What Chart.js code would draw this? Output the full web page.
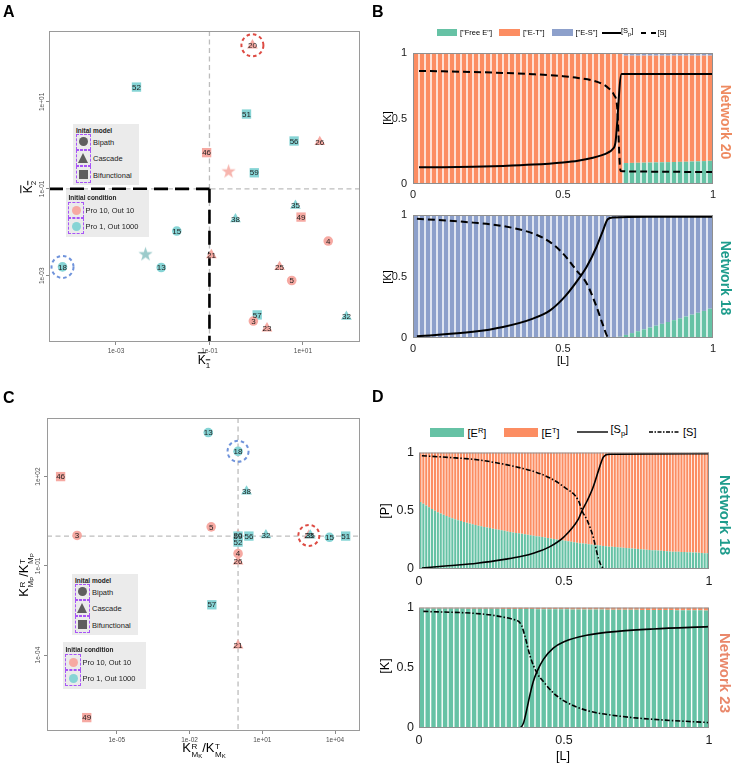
<!DOCTYPE html>
<html>
<head>
<meta charset="utf-8">
<script src="https://cdn.jsdelivr.net/npm/chart.js@4.4.1/dist/chart.umd.min.js"></script>
<style>
  body { margin: 0; background: #fff; }
  #fig { position: relative; width: 733px; height: 765px; overflow: hidden; font-family: "Liberation Sans", Arial, sans-serif; color: #000; }
  .t { position: absolute; white-space: nowrap; line-height: 1; }
  .letter { font-weight: bold; font-size: 16px; }
  .net { font-weight: bold; transform: translate(-50%, -50%) rotate(90deg); }
  .rotl { transform: translate(-50%, -50%) rotate(-90deg); }
  .mid { transform: translate(-50%, -50%); }
  .vmid { transform: translateY(-50%); }
  .key { position: absolute; background: #ebebeb; }
  .key .ttl { position: absolute; font-weight: bold; font-size: 6.5px; color: #222; white-space: nowrap; }
  .key .dbox { position: absolute; border: 1.2px dashed #a855f7; box-sizing: border-box; }
  .key .lab { position: absolute; font-size: 7.5px; color: #222; transform: translateY(-50%); white-space: nowrap; }
  .ss { display: inline-flex; flex-direction: column; font-size: 0.62em; line-height: 1.05; vertical-align: 0.42em; margin-left: 0.5px; }
  .ss sub { font-size: 0.75em; vertical-align: -0.2em; line-height: 0; }
</style>
</head>
<body>
<div id="fig"></div>
<script>
// ---- panel A : K1 / K2 scatter ----
const aNet = [20, 52, 51, 56, 26, 46, 59, 35, 49, 38, 15, 4, 21, 18, 13, 25, 5, 57, 3, 23, 32];
const aK1 = [0.83, 2.75e-3, 0.62, 6.46, 22.9, 0.087, 0.91, 6.9, 9.1, 0.36, 0.020, 34.7, 0.11, 7.2e-5, 9.3e-3, 3.16, 5.75, 1.05, 0.87, 1.70, 85];
const aK2 = [200, 21.9, 5.25, 1.26, 1.20, 0.68, 0.234, 0.041, 0.0224, 0.020, 0.0107, 6.3e-3, 3.0e-3, 1.6e-3, 1.55e-3, 1.6e-3, 7.8e-4, 1.26e-4, 9.1e-5, 6.2e-5, 1.15e-4];
const aModel = ['cas', 'bif', 'bif', 'bif', 'cas', 'bif', 'bif', 'cas', 'bif', 'cas', 'bip', 'bip', 'cas', 'bip', 'bip', 'cas', 'bip', 'bif', 'bip', 'cas', 'cas'];
const aCond = ['p10', 'p1', 'p1', 'p1', 'p10', 'p10', 'p1', 'p1', 'p10', 'p1', 'p1', 'p10', 'p10', 'p1', 'p1', 'p10', 'p10', 'p1', 'p10', 'p10', 'p1'];
const aStarK1 = [0.257, 4.3e-3];
const aStarK2 = [0.257, 3.2e-3];
const aXTicks = [1e-3, 1e-1, 1e1];
const aYTicks = [1e-3, 1e-1, 1e1];

// ---- panel C : KM ratios scatter ----
const cNet = [13, 18, 46, 38, 5, 3, 20, 59, 56, 32, 23, 35, 15, 51, 52, 4, 26, 57, 21, 49];
const cKMK = [0.059, 1.0, 4.8e-8, 2.24, 0.078, 2.3e-7, 1.0, 1.0, 2.8, 14.1, 832, 955, 5890, 27500, 1.0, 1.0, 1.0, 0.083, 1.0, 5.75e-7];
const cKMP = [3020, 708, 100, 31.6, 2.04, 1.05, 1.07, 1.0, 1.0, 1.07, 1.05, 1.05, 0.91, 1.0, 0.63, 0.257, 0.141, 4.9e-3, 2.1e-4, 7.9e-7];
const cModel = ['bip', 'bip', 'bif', 'cas', 'bip', 'bip', 'cas', 'bif', 'bif', 'cas', 'cas', 'cas', 'bip', 'bif', 'bif', 'bip', 'cas', 'bif', 'cas', 'bif'];
const cCond = ['p1', 'p1', 'p10', 'p1', 'p10', 'p10', 'p10', 'p1', 'p1', 'p1', 'p10', 'p1', 'p1', 'p1', 'p1', 'p10', 'p10', 'p1', 'p10', 'p10'];
const cXTicks = [1e-5, 1e-2, 1e1, 1e4];
const cYTicks = [1e-4, 1e-1, 1e2];

// ---- panel B / D bar positions ([L]) ----
const L50 = [0.01, 0.03, 0.05, 0.07, 0.09, 0.11, 0.13, 0.15, 0.17, 0.19,
  0.21, 0.23, 0.25, 0.27, 0.29, 0.31, 0.33, 0.35, 0.37, 0.39,
  0.41, 0.43, 0.45, 0.47, 0.49, 0.51, 0.53, 0.55, 0.57, 0.59,
  0.61, 0.63, 0.65, 0.67, 0.69, 0.71, 0.73, 0.75, 0.77, 0.79,
  0.81, 0.83, 0.85, 0.87, 0.89, 0.91, 0.93, 0.95, 0.97, 0.99];
const L100 = [0.005, 0.015, 0.025, 0.035, 0.045, 0.055, 0.065, 0.075, 0.085, 0.095,
  0.105, 0.115, 0.125, 0.135, 0.145, 0.155, 0.165, 0.175, 0.185, 0.195,
  0.205, 0.215, 0.225, 0.235, 0.245, 0.255, 0.265, 0.275, 0.285, 0.295,
  0.305, 0.315, 0.325, 0.335, 0.345, 0.355, 0.365, 0.375, 0.385, 0.395,
  0.405, 0.415, 0.425, 0.435, 0.445, 0.455, 0.465, 0.475, 0.485, 0.495,
  0.505, 0.515, 0.525, 0.535, 0.545, 0.555, 0.565, 0.575, 0.585, 0.595,
  0.605, 0.615, 0.625, 0.635, 0.645, 0.655, 0.665, 0.675, 0.685, 0.695,
  0.705, 0.715, 0.725, 0.735, 0.745, 0.755, 0.765, 0.775, 0.785, 0.795,
  0.805, 0.815, 0.825, 0.835, 0.845, 0.855, 0.865, 0.875, 0.885, 0.895,
  0.905, 0.915, 0.925, 0.935, 0.945, 0.955, 0.965, 0.975, 0.985, 0.995];
const LTicks = [0, 0.5, 1];

// B top, network 20
const n20FreeE = [0, 0, 0, 0, 0, 0, 0, 0, 0, 0, 0, 0, 0, 0, 0, 0, 0, 0, 0, 0,
  0, 0, 0, 0, 0, 0, 0, 0, 0, 0, 0, 0, 0, 0, 0,
  0.16, 0.161, 0.162, 0.163, 0.164, 0.165, 0.166, 0.167, 0.168, 0.169, 0.17, 0.172, 0.173, 0.175, 0.177];
const n20ES = [0, 0, 0, 0, 0, 0, 0, 0, 0, 0, 0, 0, 0, 0, 0, 0, 0, 0, 0, 0,
  0, 0, 0, 0, 0, 0, 0, 0, 0, 0, 0, 0, 0, 0, 0,
  0.02, 0.02, 0.02, 0.02, 0.02, 0.02, 0.02, 0.02, 0.02, 0.02, 0.02, 0.02, 0.02, 0.02, 0.02];
const n20SpL = [0.02, 0.1, 0.2, 0.3, 0.4, 0.5, 0.55, 0.6, 0.63, 0.65, 0.665, 0.675, 0.695, 0.75, 0.85, 1.0];
const n20Sp = [0.127, 0.128, 0.132, 0.138, 0.148, 0.165, 0.178, 0.2, 0.22, 0.24, 0.265, 0.32, 0.84, 0.84, 0.84, 0.84];
const n20SL = [0.02, 0.1, 0.2, 0.3, 0.4, 0.5, 0.55, 0.6, 0.63, 0.65, 0.67, 0.68, 0.692, 0.75, 0.85, 1.0];
const n20S = [0.863, 0.86, 0.855, 0.848, 0.838, 0.823, 0.81, 0.79, 0.765, 0.735, 0.68, 0.6, 0.1, 0.095, 0.093, 0.092];

// B bottom, network 18
const n18bFreeE = [0, 0, 0, 0, 0, 0, 0, 0, 0, 0, 0, 0, 0, 0, 0, 0, 0, 0, 0, 0,
  0, 0, 0, 0, 0, 0, 0, 0, 0, 0, 0, 0, 0, 0,
  0.01, 0.025, 0.04, 0.055, 0.07, 0.085, 0.1, 0.115, 0.13, 0.145, 0.16, 0.175, 0.19, 0.205, 0.22, 0.238];
const n18bSpL = [0.013, 0.2, 0.3, 0.4, 0.457, 0.5, 0.545, 0.579, 0.612, 0.634, 0.649, 0.667, 0.8, 1.0];
const n18bSp = [0.014, 0.05, 0.09, 0.158, 0.225, 0.32, 0.457, 0.58, 0.742, 0.878, 0.965, 0.98, 0.985, 0.986];
const n18bSL = [0.013, 0.2, 0.3, 0.4, 0.457, 0.5, 0.545, 0.579, 0.612, 0.634, 0.65, 0.667, 0.8, 1.0];
const n18bS = [0.97, 0.938, 0.91, 0.85, 0.78, 0.687, 0.55, 0.443, 0.253, 0.1, 0.008, 0, 0, 0];

// D top, network 18
const n18dER = [0.575, 0.56, 0.545, 0.53, 0.515, 0.5, 0.488, 0.476, 0.465, 0.455,
  0.445, 0.436, 0.427, 0.419, 0.411, 0.404, 0.397, 0.39, 0.384, 0.378,
  0.372, 0.366, 0.361, 0.356, 0.351, 0.346, 0.341, 0.336, 0.332, 0.328,
  0.322, 0.318, 0.314, 0.31, 0.306, 0.302, 0.298, 0.294, 0.29, 0.286,
  0.282, 0.278, 0.274, 0.27, 0.266, 0.262, 0.258, 0.254, 0.25, 0.246,
  0.242, 0.238, 0.234, 0.23, 0.226, 0.222, 0.219, 0.216, 0.213, 0.21,
  0.207, 0.204, 0.201, 0.198, 0.195, 0.192, 0.19, 0.188, 0.186, 0.184,
  0.182, 0.18, 0.178, 0.176, 0.174, 0.172, 0.17, 0.168, 0.166, 0.164,
  0.162, 0.16, 0.158, 0.156, 0.154, 0.152, 0.15, 0.149, 0.148, 0.147,
  0.146, 0.145, 0.144, 0.143, 0.142, 0.141, 0.14, 0.138, 0.136, 0.135];
const n18dSpL = [0.01, 0.1, 0.2, 0.3, 0.35, 0.4, 0.45, 0.5, 0.55, 0.562, 0.58, 0.6, 0.62, 0.635, 0.645, 0.66, 0.8, 1.0];
const n18dSp = [0.008, 0.028, 0.05, 0.085, 0.107, 0.14, 0.19, 0.276, 0.43, 0.5, 0.586, 0.7, 0.853, 0.958, 0.98, 0.986, 0.988, 0.99];
const n18dSL = [0.01, 0.1, 0.2, 0.3, 0.35, 0.4, 0.45, 0.5, 0.55, 0.562, 0.58, 0.6, 0.62, 0.635, 0.65, 0.8, 1.0];
const n18dS = [0.972, 0.958, 0.938, 0.896, 0.868, 0.834, 0.783, 0.704, 0.586, 0.5, 0.417, 0.28, 0.08, 0.008, 0, 0, 0];

// D bottom, network 23
const n23ER = [0.993, 0.993, 0.992, 0.992, 0.992, 0.991, 0.991, 0.991, 0.99, 0.99,
  0.99, 0.989, 0.989, 0.989, 0.988, 0.988, 0.988, 0.987, 0.987, 0.987,
  0.986, 0.986, 0.986, 0.985, 0.985, 0.985, 0.984, 0.984, 0.984, 0.983,
  0.983, 0.983, 0.982, 0.982, 0.982, 0.981, 0.981, 0.981, 0.98, 0.98,
  0.98, 0.979, 0.979, 0.979, 0.978, 0.978, 0.978, 0.977, 0.977, 0.976];
const n23SpL = [0.02, 0.345, 0.36, 0.371, 0.383, 0.394, 0.406, 0.429, 0.463, 0.5, 0.578, 0.693, 0.808, 1.0];
const n23Sp = [0, 0, 0.04, 0.146, 0.28, 0.385, 0.464, 0.57, 0.663, 0.716, 0.77, 0.804, 0.822, 0.841];
const n23SL = [0.015, 0.337, 0.354, 0.366, 0.383, 0.406, 0.429, 0.463, 0.5, 0.578, 0.693, 0.808, 1.0];
const n23S = [0.968, 0.894, 0.849, 0.756, 0.597, 0.459, 0.385, 0.292, 0.225, 0.146, 0.098, 0.072, 0.045];

const GREEN = '#66C2A5', ORANGE = '#FC8D62', BLUE = '#8DA0CB';
const PINK = '#F6A9A2', TEAL = '#86D4D5';

Chart.defaults.font.family = '"Liberation Sans", Arial, sans-serif';

const fig = document.getElementById('fig');
function put(html) { fig.insertAdjacentHTML('beforeend', html); }

function mkCanvas(b) {
  const c = document.createElement('canvas');
  c.width = b.w; c.height = b.h;
  c.style.cssText = `position:absolute;left:${b.x}px;top:${b.y}px;width:${b.w}px;height:${b.h}px`;
  fig.appendChild(c);
  return c;
}

function sci(v) {
  const e = Math.round(Math.log10(v));
  return '1e' + (e < 0 ? '-' : '+') + String(Math.abs(e)).padStart(2, '0');
}

function starImg(color, size) {
  const c = document.createElement('canvas');
  c.width = c.height = size;
  const g = c.getContext('2d');
  g.fillStyle = color;
  g.beginPath();
  for (let k = 0; k < 10; k++) {
    const r = k % 2 ? size * 0.2 : size * 0.5;
    const a = -Math.PI / 2 + k * Math.PI / 5;
    g.lineTo(size / 2 + r * Math.cos(a), size / 2 + 0.6 + r * Math.sin(a));
  }
  g.closePath();
  g.fill();
  return c;
}

function seg(ctx, x1, y1, x2, y2) {
  ctx.beginPath(); ctx.moveTo(x1, y1); ctx.lineTo(x2, y2); ctx.stroke();
}

const scatterDeco = {
  id: 'scatterDeco',
  beforeDatasetsDraw(chart, args, o) {
    const { ctx, chartArea: a, scales: { x, y } } = chart;
    const rx = x.getPixelForValue(o.refX), ry = y.getPixelForValue(o.refY);
    ctx.save();
    ctx.strokeStyle = '#bdbdbd'; ctx.lineWidth = 1.3; ctx.setLineDash([5, 3.5]);
    seg(ctx, a.left, ry, a.right, ry);
    seg(ctx, rx, a.top, rx, a.bottom);
    if (o.box) {
      ctx.strokeStyle = '#000'; ctx.lineWidth = 2.6; ctx.setLineDash([14, 7]);
      seg(ctx, a.left, ry, rx, ry);
      seg(ctx, rx, ry, rx, a.bottom);
    }
    ctx.restore();
  },
  afterDatasetsDraw(chart, args, o) {
    const { ctx, chartArea: a, scales: { x, y } } = chart;
    const meta = chart.getDatasetMeta(0);
    ctx.save();
    ctx.font = '8px "Liberation Sans", Arial, sans-serif';
    ctx.textAlign = 'center'; ctx.textBaseline = 'middle'; ctx.fillStyle = '#1e1e1e';
    meta.data.forEach((p, i) => ctx.fillText(String(o.labels[i]), p.x, p.y + 0.5));
    ctx.lineWidth = 2; ctx.setLineDash([3.5, 3]);
    o.rings.forEach(r => {
      const p = meta.data[o.labels.indexOf(r.net)];
      ctx.strokeStyle = r.color;
      ctx.beginPath(); ctx.arc(p.x, p.y, r.rad, 0, Math.PI * 2); ctx.stroke();
    });
    ctx.setLineDash([]);
    ctx.strokeStyle = '#9a9a9a'; ctx.lineWidth = 1;
    ctx.strokeRect(a.left + 0.5, a.top + 0.5, a.right - a.left - 1, a.bottom - a.top - 1);
    ctx.font = '6.5px "Liberation Sans", Arial, sans-serif';
    ctx.fillStyle = '#4d4d4d';
    o.xTicks.forEach(v => ctx.fillText(sci(v), x.getPixelForValue(v), a.bottom + 9));
    o.yTicks.forEach(v => {
      ctx.save();
      ctx.translate(a.left - o.yLabOff, y.getPixelForValue(v));
      ctx.rotate(-Math.PI / 2);
      ctx.fillText(sci(v), 0, 0);
      ctx.restore();
    });
    ctx.restore();
  }
};

function scatterPanel(box, area, d) {
  const cv = mkCanvas(box);
  const shapes = { bip: ['circle', 4.8], cas: ['triangle', 6.2], bif: ['rect', 6.6] };
  const fills = { p10: PINK, p1: TEAL };
  const datasets = [{
    data: d.x.map((v, i) => ({ x: v, y: d.y[i] })),
    pointStyle: d.model.map(m => shapes[m][0]),
    pointRadius: d.model.map(m => shapes[m][1]),
    pointBackgroundColor: d.cond.map(c => fills[c]),
    pointBorderWidth: 0,
  }];
  if (d.stars) {
    datasets.push({
      data: d.stars.x.map((v, i) => ({ x: v, y: d.stars.y[i] })),
      pointStyle: d.stars.colors.map(c => starImg(c, 15)),
      pointRadius: 7,
    });
  }
  const logAxis = (min, max, ticks, fit) => ({
    type: 'logarithmic', min, max,
    afterBuildTicks: s => { s.ticks = ticks.map(v => ({ value: v })); },
    ticks: { display: false },
    grid: { drawOnChartArea: false, drawTicks: true, tickLength: 3, color: '#8a8a8a' },
    border: { display: false },
    afterFit: fit,
  });
  new Chart(cv, {
    type: 'scatter',
    data: { datasets },
    options: {
      responsive: false, animation: false, events: [],
      layout: { padding: { left: 0, top: area.t, right: box.w - area.r, bottom: 0 } },
      plugins: {
        legend: { display: false }, tooltip: { enabled: false },
        scatterDeco: { labels: d.labels, refX: d.ref, refY: d.ref, box: d.box, rings: d.rings,
          xTicks: d.xTicks, yTicks: d.yTicks, yLabOff: d.yLabOff },
      },
      scales: {
        x: logAxis(d.xMin, d.xMax, d.xTicks, s => { s.height = box.h - area.b; }),
        y: logAxis(d.yMin, d.yMax, d.yTicks, s => { s.width = area.l; }),
      },
    },
    plugins: [scatterDeco],
  });
}

const frame = {
  id: 'frame',
  afterDraw(chart) {
    const { ctx, chartArea: a } = chart;
    ctx.save();
    ctx.strokeStyle = '#8f8f8f'; ctx.lineWidth = 1;
    ctx.strokeRect(a.left + 0.5, a.top + 0.5, a.right - a.left - 1, a.bottom - a.top - 1);
    ctx.restore();
  }
};

function stackPanel(box, area, d) {
  const cv = mkCanvas(box);
  const datasets = d.stacks.map(s => ({
    type: 'bar', stack: 'st', order: 2,
    data: d.L.map((v, i) => ({ x: v, y: s.v[i] })),
    backgroundColor: s.color, categoryPercentage: 1, barPercentage: d.barPct,
  }));
  d.lines.forEach(l => datasets.push({
    type: 'line', yAxisID: 'yl', order: 1,
    data: l.L.map((v, i) => ({ x: v, y: l.v[i] })),
    borderColor: '#000', borderWidth: l.w, borderDash: l.dash,
    pointRadius: 0, cubicInterpolationMode: 'monotone', fill: false,
  }));
  const tickFont = { size: d.fs };
  const fixTicks = s => { s.ticks = LTicks.map(v => ({ value: v })); };
  const fmt = v => String(v);
  new Chart(cv, {
    type: 'bar',
    data: { datasets },
    options: {
      responsive: false, animation: false, events: [],
      layout: { padding: { left: 0, top: area.t, right: box.w - area.r, bottom: 0 } },
      plugins: { legend: { display: false }, tooltip: { enabled: false } },
      scales: {
        x: {
          type: 'linear', min: 0, max: 1, offset: false, stacked: true,
          afterBuildTicks: fixTicks,
          grid: { display: false, drawTicks: false }, border: { display: false },
          ticks: { padding: d.xPad, color: '#1a1a1a', font: tickFont, maxRotation: 0, callback: fmt },
          afterFit: s => { s.height = box.h - area.b; },
        },
        y: {
          min: 0, max: 1, stacked: true,
          afterBuildTicks: fixTicks,
          grid: { display: false, drawTicks: false }, border: { display: false },
          ticks: { padding: d.yPad, color: '#1a1a1a', font: tickFont, callback: fmt },
          afterFit: s => { s.width = area.l; },
        },
        yl: { display: false, min: 0, max: 1 },
      },
    },
    plugins: [frame],
  });
}

// ---------- panel A ----------
scatterPanel({ x: 0, y: 0, w: 370, h: 380 }, { l: 49, t: 31, r: 360, b: 342 }, {
  labels: aNet, x: aK1, y: aK2, model: aModel, cond: aCond,
  stars: { x: aStarK1, y: aStarK2, colors: ['#F7B5AE', '#9CCBCB'] },
  xMin: 3.7e-5, xMax: 166, yMin: 3.0e-5, yMax: 427,
  xTicks: aXTicks, yTicks: aYTicks, ref: 0.1, box: true, yLabOff: 7,
  rings: [{ net: 20, color: '#DD4B43', rad: 11 }, { net: 18, color: '#6F93DB', rad: 11 }],
});

// ---------- panel C ----------
scatterPanel({ x: 0, y: 380, w: 370, h: 385 }, { l: 47, t: 38, r: 360, b: 351 }, {
  labels: cNet, x: cKMK, y: cKMP, model: cModel, cond: cCond,
  xMin: 1.32e-8, xMax: 1.07e5, yMin: 2.8e-7, yMax: 9330,
  xTicks: cXTicks, yTicks: cYTicks, ref: 1, box: false, yLabOff: 8.5,
  rings: [{ net: 18, color: '#6F93DB', rad: 10.5 }, { net: 23, color: '#DD4B43', rad: 10.5 }],
});

// ---------- panel B ----------
stackPanel({ x: 370, y: 40, w: 363, h: 165 }, { l: 43, t: 13, r: 343, b: 144 }, {
  L: L50, barPct: 0.76, fs: 11, xPad: 4, yPad: 6,
  stacks: [
    { v: n20FreeE, color: GREEN },
    { v: n20FreeE.map((v, i) => 1 - v - n20ES[i]), color: ORANGE },
    { v: n20ES, color: BLUE },
  ],
  lines: [
    { L: n20SpL, v: n20Sp, w: 2, dash: [] },
    { L: n20SL, v: n20S, w: 2, dash: [7, 4] },
  ],
});
stackPanel({ x: 370, y: 200, w: 363, h: 160 }, { l: 43, t: 15, r: 343, b: 138 }, {
  L: L50, barPct: 0.76, fs: 11, xPad: 4, yPad: 6,
  stacks: [
    { v: n18bFreeE, color: GREEN },
    { v: n18bFreeE.map(v => 1 - v), color: BLUE },
  ],
  lines: [
    { L: n18bSpL, v: n18bSp, w: 2, dash: [] },
    { L: n18bSL, v: n18bS, w: 2, dash: [7, 4] },
  ],
});

// ---------- panel D ----------
stackPanel({ x: 370, y: 440, w: 363, h: 155 }, { l: 49, t: 11, r: 339, b: 129 }, {
  L: L100, barPct: 0.72, fs: 12.5, xPad: 5, yPad: 5,
  stacks: [
    { v: n18dER, color: GREEN },
    { v: n18dER.map(v => 1 - v), color: ORANGE },
  ],
  lines: [
    { L: n18dSpL, v: n18dSp, w: 1.6, dash: [] },
    { L: n18dSL, v: n18dS, w: 1.6, dash: [5, 2, 1.5, 2] },
  ],
});
stackPanel({ x: 370, y: 595, w: 363, h: 155 }, { l: 49, t: 8, r: 339, b: 133 }, {
  L: L50, barPct: 0.76, fs: 12.5, xPad: 5, yPad: 5,
  stacks: [
    { v: n23ER, color: GREEN },
    { v: n23ER.map(v => 1 - v), color: ORANGE },
  ],
  lines: [
    { L: n23SpL, v: n23Sp, w: 1.6, dash: [] },
    { L: n23SL, v: n23S, w: 1.6, dash: [5, 2, 1.5, 2] },
  ],
});

// ---------- text overlays ----------
put('<div class="t letter" style="left:3px;top:4px">A</div>');
put('<div class="t letter" style="left:372px;top:4px">B</div>');
put('<div class="t letter" style="left:3px;top:390px">C</div>');
put('<div class="t letter" style="left:372px;top:389px">D</div>');

// A axis titles
put('<div class="t mid" style="left:204px;top:362px;font-size:12px"><span style="text-decoration:overline">K<sub style="font-size:8px">1</sub></span></div>');
put('<div class="t rotl" style="left:30px;top:187px;font-size:12px"><span style="text-decoration:overline">K<sub style="font-size:8px">2</sub></span></div>');

// C axis titles
put('<div class="t mid" style="left:204px;top:750px;font-size:13px">K<span class="ss"><span>R</span><span>M<sub>K</sub></span></span>/K<span class="ss"><span>T</span><span>M<sub>K</sub></span></span></div>');
put('<div class="t rotl" style="left:26px;top:575px;font-size:13px">K<span class="ss"><span>R</span><span>M<sub>P</sub></span></span>/K<span class="ss"><span>T</span><span>M<sub>P</sub></span></span></div>');

// B / D axis titles
put('<div class="t rotl" style="left:387px;top:118px;font-size:11px">[K]</div>');
put('<div class="t rotl" style="left:387px;top:277px;font-size:11px">[K]</div>');
put('<div class="t mid" style="left:563px;top:360px;font-size:11px">[L]</div>');
put('<div class="t rotl" style="left:385px;top:511px;font-size:12.5px">[P]</div>');
put('<div class="t rotl" style="left:385px;top:666px;font-size:12.5px">[K]</div>');
put('<div class="t mid" style="left:563px;top:756px;font-size:12.5px">[L]</div>');

// network labels
put('<div class="t net" style="left:726px;top:122px;font-size:14px;color:#EE8A60">Network 20</div>');
put('<div class="t net" style="left:726px;top:278px;font-size:14px;color:#1E9C8C">Network 18</div>');
put('<div class="t net" style="left:725px;top:515px;font-size:15px;color:#1E9C8C">Network 18</div>');
put('<div class="t net" style="left:725px;top:673px;font-size:15px;color:#E9876A">Network 23</div>');

// legend B
function lineSvg(x, y, w, sw, dash) {
  return `<svg style="position:absolute;left:${x}px;top:${y - 3}px" width="${w}" height="6"><line x1="0" y1="3" x2="${w}" y2="3" stroke="#000" stroke-width="${sw}" stroke-dasharray="${dash}"/></svg>`;
}
put(`<div class="t" style="left:437px;top:29px;width:20px;height:7px;background:${GREEN}"></div>`);
put('<div class="t vmid" style="left:460px;top:32.5px;font-size:7.5px">["Free E"]</div>');
put(`<div class="t" style="left:499px;top:29px;width:21px;height:7px;background:${ORANGE}"></div>`);
put('<div class="t vmid" style="left:523px;top:32.5px;font-size:7.5px">["E-T"]</div>');
put(`<div class="t" style="left:552px;top:29px;width:21px;height:7px;background:${BLUE}"></div>`);
put('<div class="t vmid" style="left:575.5px;top:32.5px;font-size:7.5px">["E-S"]</div>');
put(lineSvg(602, 32.5, 19, 2, 'none'));
put('<div class="t vmid" style="left:621px;top:31.5px;font-size:7.5px">[S<sub style="font-size:5.5px">p</sub>]</div>');
put(lineSvg(641, 32.5, 15, 2, '5 5'));
put('<div class="t vmid" style="left:657.5px;top:32.5px;font-size:7.5px">[S]</div>');

// legend D
put(`<div class="t" style="left:430px;top:427.5px;width:34px;height:9.5px;background:${GREEN}"></div>`);
put('<div class="t vmid" style="left:467.5px;top:433px;font-size:11px">[E<sup style="font-size:7.5px">R</sup>]</div>');
put(`<div class="t" style="left:504px;top:427.5px;width:34px;height:9.5px;background:${ORANGE}"></div>`);
put('<div class="t vmid" style="left:541.5px;top:433px;font-size:11px">[E<sup style="font-size:7.5px">T</sup>]</div>');
put(lineSvg(577, 432, 31, 1.4, 'none'));
put('<div class="t vmid" style="left:610.5px;top:431px;font-size:11px">[S<sub style="font-size:7.5px">p</sub>]</div>');
put(lineSvg(649, 432, 31, 1.4, '4 1.5 1.5 1.5'));
put('<div class="t vmid" style="left:683px;top:432px;font-size:11px">[S]</div>');

// scatter keys
function sym(kind, cx, cy, color) {
  if (kind === 'circle') return `<div style="position:absolute;left:${cx - 4.5}px;top:${cy - 4.5}px;width:9px;height:9px;border-radius:50%;background:${color}"></div>`;
  if (kind === 'tri') return `<div style="position:absolute;left:${cx - 5.5}px;top:${cy - 5.5}px;width:0;height:0;border-left:5.5px solid transparent;border-right:5.5px solid transparent;border-bottom:10px solid ${color}"></div>`;
  return `<div style="position:absolute;left:${cx - 4.5}px;top:${cy - 4.5}px;width:9px;height:9px;background:${color}"></div>`;
}
function addKeys(mx, my, cx, cy) {
  const models = [['circle', 'Bipath'], ['tri', 'Cascade'], ['sq', 'Bifunctional']];
  let h = `<div class="key" style="left:${mx}px;top:${my}px;width:66px;height:61px">`;
  h += '<div class="ttl" style="left:3px;top:3px">Inital model</div>';
  models.forEach((m, i) => {
    const top = 9.7 + 16.3 * i;
    h += `<div class="dbox" style="left:3px;top:${top}px;width:15px;height:16.3px"></div>`;
    h += sym(m[0], 10.5, top + 8.2, '#5e5e5e');
    h += `<div class="lab" style="left:20px;top:${top + 8.2}px">${m[1]}</div>`;
  });
  h += '</div>';
  const conds = [[PINK, 'Pro 10, Out 10'], [TEAL, 'Pro 1, Out 1000']];
  h += `<div class="key" style="left:${cx}px;top:${cy}px;width:83px;height:47px">`;
  h += '<div class="ttl" style="left:2.5px;top:3.5px">Initial condition</div>';
  conds.forEach((c, i) => {
    const top = 12 + 16 * i;
    h += `<div class="dbox" style="left:2px;top:${top}px;width:16px;height:16px"></div>`;
    h += sym('circle', 10, top + 8, c[0]);
    h += `<div class="lab" style="left:19.5px;top:${top + 8}px;font-size:7.5px">${c[1]}</div>`;
  });
  h += '</div>';
  put(h);
}
addKeys(73, 124, 66, 190);
addKeys(72, 574, 63, 642);
</script>
</body>
</html>
